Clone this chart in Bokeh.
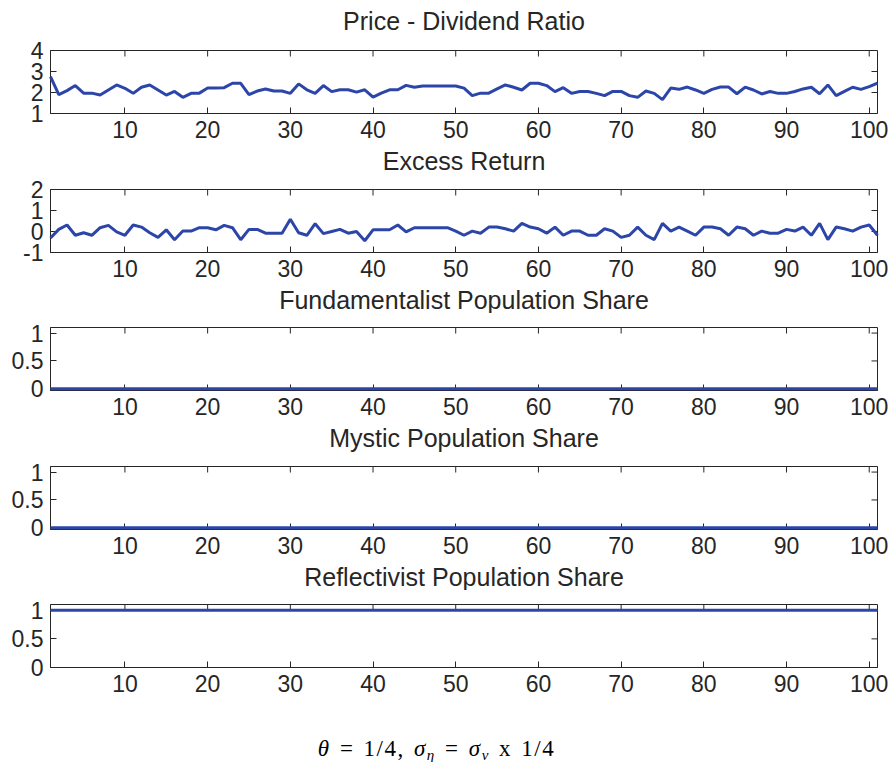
from bokeh.plotting import figure
from bokeh.layouts import column
from bokeh.models import Range1d, LinearAxis, FixedTicker, Div
from bokeh.core.properties import value
from bokeh.embed import file_html
from bokeh.resources import INLINE

# ---------------- data ----------------
t = list(range(1, 102))

pd_ratio = [2.76, 1.90, 2.09, 2.33, 1.97, 1.97, 1.88, 2.12, 2.36, 2.20,
            1.96, 2.25, 2.36, 2.12, 1.88, 2.05, 1.77, 1.96, 1.97, 2.21,
            2.21, 2.23, 2.44, 2.44, 1.90, 2.07, 2.17, 2.07, 2.07, 1.96,
            2.41, 2.13, 1.96, 2.33, 2.04, 2.13, 2.13, 2.02, 2.13, 1.78,
            1.97, 2.13, 2.13, 2.34, 2.25, 2.31, 2.31, 2.31, 2.31, 2.31,
            2.21, 1.85, 1.97, 1.97, 2.17, 2.36, 2.25, 2.12, 2.44, 2.44,
            2.33, 2.04, 2.23, 1.96, 2.05, 2.05, 1.96, 1.85, 2.05, 2.05,
            1.85, 1.77, 2.07, 1.96, 1.66, 2.21, 2.15, 2.26, 2.12, 1.96,
            2.15, 2.26, 2.26, 1.94, 2.26, 2.12, 1.93, 2.05, 1.96, 1.96,
            2.05, 2.17, 2.25, 1.94, 2.36, 1.85, 2.05, 2.25, 2.15, 2.28,
            2.45]

excess_return = [-0.31, 0.10, 0.31, -0.18, -0.06, -0.18, 0.18, 0.29, -0.02, -0.18,
                 0.31, 0.21, -0.06, -0.28, 0.08, -0.39, 0.02, 0.02, 0.18, 0.18,
                 0.08, 0.29, 0.18, -0.39, 0.10, 0.10, -0.08, -0.08, -0.08, 0.58,
                 -0.06, -0.18, 0.37, -0.10, 0.00, 0.10, -0.08, 0.00, -0.44, 0.08,
                 0.08, 0.08, 0.31, -0.02, 0.18, 0.18, 0.18, 0.18, 0.18, 0.02,
                 -0.18, 0.02, -0.08, 0.21, 0.21, 0.13, 0.02, 0.39, 0.21, 0.13,
                 -0.08, 0.21, -0.18, 0.02, 0.02, -0.18, -0.18, 0.13, 0.02, -0.28,
                 -0.18, 0.21, -0.18, -0.39, 0.39, 0.02, 0.21, 0.02, -0.18, 0.21,
                 0.21, 0.13, -0.18, 0.21, 0.13, -0.18, 0.02, -0.08, -0.08, 0.10,
                 0.02, 0.21, -0.18, 0.39, -0.39, 0.21, 0.13, 0.02, 0.21, 0.31,
                 -0.18]

fundamentalist_share = [0.0] * 101
mystic_share = [0.0] * 101
reflectivist_share = [1.0] * 101

titles = ["Price - Dividend Ratio", "Excess Return",
          "Fundamentalist Population Share", "Mystic Population Share",
          "Reflectivist Population Share"]
x_ticks = [10, 20, 30, 40, 50, 60, 70, 80, 90, 100]
y_ticks = [[1, 2, 3, 4], [-1, 0, 1, 2], [0, 0.5, 1], [0, 0.5, 1], [0, 0.5, 1]]
y_tick_labels = [["1", "2", "3", "4"], ["-1", "0", "1", "2"],
                 ["0", "0.5", "1"], ["0", "0.5", "1"], ["0", "0.5", "1"]]
series = [pd_ratio, excess_return, fundamentalist_share, mystic_share, reflectivist_share]

# ---------------- style / layout ----------------
X_LO, X_HI = 1, 101
y_limits = [(1, 4), (-1, 2), (-0.03, 1.1), (-0.03, 1.1), (0, 1.1)]
title_heights = [36, 29, 28, 29, 28]      # strip above each panel holding its title
title_centers = [20, 14, 14, 14, 14]      # title centre, px from top of the strip
PANEL_TOP = 14
PANEL_BOTTOM = 33
FRAME_H = 63
FRAME_W = 827
BORDER_L, BORDER_R = 50, 16
TICK = 6
AX = "#262626"
LINE = "#2c45a8"
SANS = "Liberation Sans"
W = 893


def style_axis(ax, ticks, standoff, overrides=None):
    ax.ticker = FixedTicker(ticks=ticks)
    ax.axis_line_color = AX
    ax.axis_line_width = 1
    ax.major_tick_line_color = AX
    ax.major_tick_in = TICK
    ax.major_tick_out = 0
    ax.minor_tick_line_color = None
    ax.major_label_text_font = SANS
    ax.major_label_text_font_size = "23px"
    ax.major_label_text_color = AX
    ax.major_label_standoff = standoff
    if overrides:
        ax.major_label_overrides = overrides


def title_strip(text, h, c):
    f = figure(width=W, height=h, x_range=Range1d(X_LO, X_HI), y_range=Range1d(0, h),
               output_backend="svg", toolbar_location=None,
               x_axis_location=None, y_axis_location=None,
               min_border_left=BORDER_L, min_border_right=BORDER_R,
               min_border_top=0, min_border_bottom=0)
    f.grid.visible = False
    f.outline_line_color = None
    f.background_fill_color = "white"
    f.border_fill_color = "white"
    f.text(x=[(X_LO + X_HI) / 2], y=[h - c], text=[text],
           text_align="center", text_baseline="middle",
           text_font=value(SANS), text_font_size="25px", text_color=AX)
    return f


items = []
for i in range(5):
    items.append(title_strip(titles[i], title_heights[i], title_centers[i]))

    lo, hi = y_limits[i]
    H = PANEL_TOP + FRAME_H + PANEL_BOTTOM
    p = figure(width=W, height=H, x_range=Range1d(X_LO, X_HI), y_range=Range1d(lo, hi),
               output_backend="svg", toolbar_location=None,
               x_axis_location=None, y_axis_location=None,
               min_border_left=BORDER_L, min_border_right=BORDER_R,
               min_border_top=PANEL_TOP, min_border_bottom=PANEL_BOTTOM)
    p.grid.visible = False
    p.outline_line_color = AX
    p.background_fill_color = "white"
    p.border_fill_color = "white"

    overrides = {v: s for v, s in zip(y_ticks[i], y_tick_labels[i])}
    bx = LinearAxis(); style_axis(bx, x_ticks, 7); p.add_layout(bx, "below")
    ly = LinearAxis(); style_axis(ly, y_ticks[i], 7, overrides); p.add_layout(ly, "left")

    # inward ticks on the top and right edges of the box
    dy = TICK / FRAME_H * (hi - lo)
    dx = TICK / FRAME_W * (X_HI - X_LO)
    p.segment(x0=x_ticks, y0=[hi] * len(x_ticks), x1=x_ticks, y1=[hi - dy] * len(x_ticks),
              line_color=AX, line_width=1)
    p.segment(x0=[X_HI] * len(y_ticks[i]), y0=y_ticks[i], x1=[X_HI - dx] * len(y_ticks[i]),
              y1=y_ticks[i], line_color=AX, line_width=1)

    p.line(t, series[i], line_color=LINE, line_width=3, level="overlay")
    items.append(p)

caption_html = (
    '<div style="width:893px;box-sizing:border-box;padding-top:31px;padding-right:30px;'
    'text-align:center;font-family:\'Liberation Serif\';font-size:23px;line-height:26px;'
    'color:black;word-spacing:2px;letter-spacing:1.5px;white-space:nowrap">'
    '<i>θ</i> = 1/4, <i>σ</i><sub style="font-size:15px;line-height:0;vertical-align:-4px">'
    '<i>η</i></sub> = <i>σ</i><sub style="font-size:15px;line-height:0;vertical-align:-4px">'
    '<i>v</i></sub> x 1/4</div>'
)
used = sum(title_heights) + 5 * (PANEL_TOP + FRAME_H + PANEL_BOTTOM)
caption = Div(text=caption_html, width=W, height=762 - used)
items.append(caption)

layout = column(*items, spacing=0)
open("out.html", "w").write(file_html(layout, INLINE))
